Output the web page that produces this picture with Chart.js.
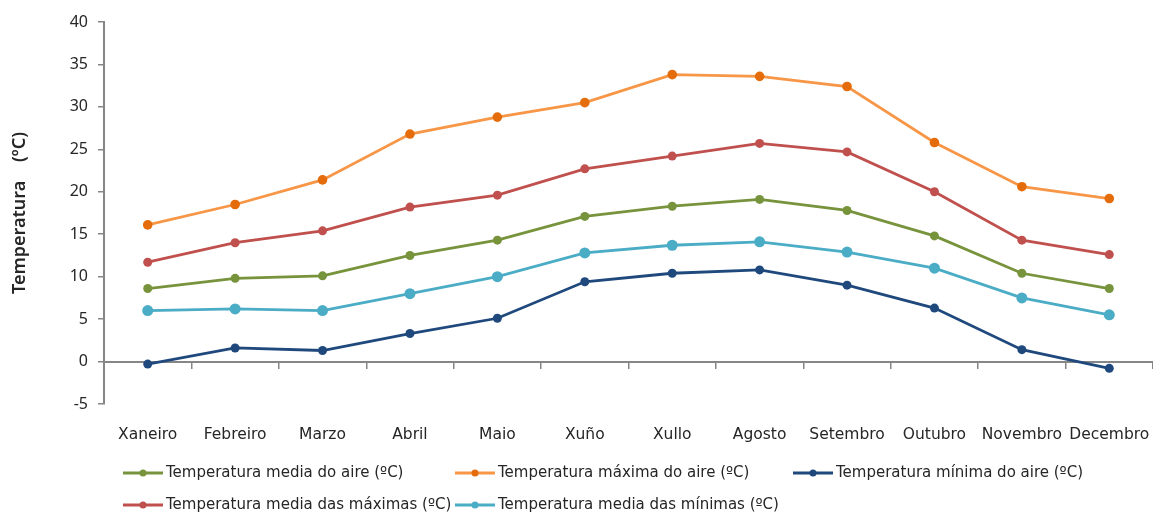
<!DOCTYPE html>
<html>
<head>
<meta charset="utf-8">
<script src="https://cdn.jsdelivr.net/npm/chart.js@4.4.1/dist/chart.umd.min.js"></script>
<style>
  html, body { margin: 0; padding: 0; background: #fff; }
  #wrap { width: 1153px; height: 515px; }
</style>
</head>
<body>
<div id="wrap"><canvas id="c" width="1153" height="515"></canvas></div>
<script>
// Months
const meses = ['Xaneiro', 'Febreiro', 'Marzo', 'Abril', 'Maio', 'Xuño', 'Xullo', 'Agosto', 'Setembro', 'Outubro', 'Novembro', 'Decembro'];

// Monthly temperatures (ºC)
const mediaAire    = [8.6, 9.8, 10.1, 12.5, 14.3, 17.1, 18.3, 19.1, 17.8, 14.8, 10.4, 8.6];
const maximaAire   = [16.1, 18.5, 21.4, 26.8, 28.8, 30.5, 33.8, 33.6, 32.4, 25.8, 20.6, 19.2];
const minimaAire   = [-0.3, 1.6, 1.3, 3.3, 5.1, 9.4, 10.4, 10.8, 9.0, 6.3, 1.4, -0.8];
const mediaMaximas = [11.7, 14.0, 15.4, 18.2, 19.6, 22.7, 24.2, 25.7, 24.7, 20.0, 14.3, 12.6];
const mediaMinimas = [6.0, 6.2, 6.0, 8.0, 10.0, 12.8, 13.7, 14.1, 12.9, 11.0, 7.5, 5.5];

// Series names
const nomes = [
  'Temperatura media do aire (ºC)',
  'Temperatura máxima do aire (ºC)',
  'Temperatura mínima do aire (ºC)',
  'Temperatura media das máximas (ºC)',
  'Temperatura media das mínimas (ºC)'
];

// Y axis ticks
const yMin = -5, yMax = 40, yStep = 5;

const FONT_NUM = '"Noto Sans", sans-serif';
const FONT_TXT = '"DejaVu Sans", sans-serif';
const TEXT = '#262626';
const AXIS = '#868686';

function serie(label, data, line, marker, radius) {
  return {
    label, data,
    xAxisID: 'x',
    borderColor: line,
    backgroundColor: marker,
    pointBackgroundColor: marker,
    pointBorderColor: marker,
    pointRadius: radius,
    pointBorderWidth: 0,
    borderWidth: 2.8,
    tension: 0,
    fill: false,
    clip: false
  };
}

const datasets = [
  serie(nomes[0], mediaAire,    '#77933C', '#77933C', 4.5),
  serie(nomes[1], maximaAire,   '#F79646', '#E46C0A', 4.8),
  serie(nomes[2], minimaAire,   '#1F497D', '#1F497D', 4.5),
  serie(nomes[3], mediaMaximas, '#C0504D', '#C0504D', 4.5),
  serie(nomes[4], mediaMinimas, '#4BACC6', '#4BACC6', 5.5)
];

// Legend laid out in three fixed columns below the plot
const columnLegend = {
  id: 'columnLegend',
  afterDraw(chart) {
    const ctx = chart.ctx;
    const cols = [123, 455, 793];
    const rows = [473, 505];
    ctx.save();
    ctx.font = '15px ' + FONT_TXT;
    ctx.textBaseline = 'middle';
    ctx.textAlign = 'left';
    chart.data.datasets.forEach((ds, i) => {
      const x = cols[i % 3];
      const y = rows[Math.floor(i / 3)];
      ctx.strokeStyle = ds.borderColor;
      ctx.lineWidth = 3;
      ctx.beginPath();
      ctx.moveTo(x, y);
      ctx.lineTo(x + 40, y);
      ctx.stroke();
      ctx.fillStyle = ds.pointBackgroundColor;
      ctx.beginPath();
      ctx.arc(x + 20, y, 3.5, 0, Math.PI * 2);
      ctx.fill();
      ctx.fillStyle = TEXT;
      ctx.fillText(ds.label, x + 43, y);
    });
    ctx.restore();
  }
};

function noSidePadding(scale) {
  scale.paddingLeft = 0;
  scale.paddingRight = 0;
}

new Chart(document.getElementById('c'), {
  type: 'line',
  data: { labels: meses, datasets },
  plugins: [columnLegend],
  options: {
    responsive: false,
    animation: false,
    layout: { autoPadding: false, padding: { top: 22, right: 0, left: 0, bottom: 0 } },
    plugins: {
      legend: { display: false },
      tooltip: { enabled: false }
    },
    scales: {
      x: {
        type: 'category',
        position: 'bottom',
        offset: true,
        border: { display: false },
        grid: { display: false, drawTicks: false },
        ticks: { color: TEXT, font: { family: FONT_TXT, size: 15.5 }, padding: 22, maxRotation: 0, autoSkip: false },
        afterFit(scale) { scale.height = 111; noSidePadding(scale); }
      },
      x0: {
        type: 'category',
        position: { y: 0 },
        offset: true,
        border: { display: true, color: AXIS, width: 2 },
        grid: { display: true, drawOnChartArea: false, drawTicks: true, tickLength: 6, offset: true, color: AXIS, lineWidth: 1.5 },
        ticks: { display: false },
        afterFit: noSidePadding
      },
      y: {
        min: yMin, max: yMax,
        border: { display: true, color: AXIS, width: 2 },
        grid: { display: true, drawOnChartArea: false, drawTicks: true, tickLength: 6, color: AXIS, lineWidth: 1.5 },
        ticks: { stepSize: yStep, color: TEXT, font: { family: FONT_NUM, size: 16 }, padding: 10 },
        title: {
          display: true,
          text: 'Temperatura    (ºC)',
          color: TEXT,
          font: { family: FONT_NUM, size: 18, weight: '600' },
          padding: { top: 9, bottom: 0 }
        },
        afterFit(scale) { scale.width = 104; }
      }
    }
  }
});
</script>
</body>
</html>
